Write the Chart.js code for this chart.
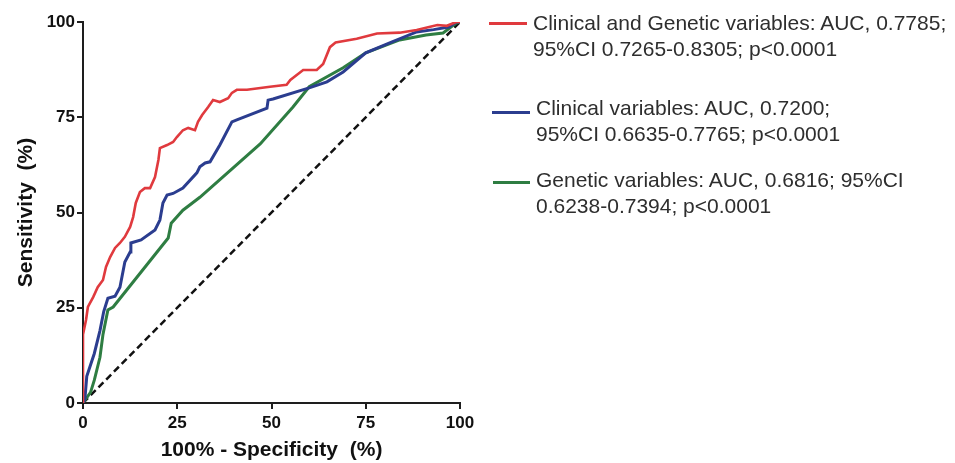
<!DOCTYPE html>
<html lang="en">

<head>
  <meta charset="UTF-8" />
  <title>ROC curves</title>
  <script src="https://cdn.jsdelivr.net/npm/chart.js"></script>
  <style>
    * {
      box-sizing: border-box;
    }

    body {
      margin: 0;
      background: #fff;
      font-family: 'Liberation Sans', Arial, sans-serif;
    }

    .wrap {
      position: relative;
      width: 955px;
      height: 463px;
    }

    .legend-item {
      position: absolute;
      font-size: 21px;
      line-height: 26px;
      color: #2e2e2e;
      white-space: nowrap;
    }

    .legend-line {
      position: absolute;
      height: 3px;
    }
  </style>
</head>

<body>
  <div class="wrap">
    <canvas id="roc" width="955" height="463"></canvas>

    <div class="legend-line" style="left:489px; top:22px; width:38px; background:#e03a3e;"></div>
    <div class="legend-item" style="left:533px; top:10px;">Clinical and Genetic variables: AUC, 0.7785;<br>95%CI 0.7265-0.8305; p&lt;0.0001</div>

    <div class="legend-line" style="left:492px; top:111px; width:38px; background:#2b3d8f;"></div>
    <div class="legend-item" style="left:536px; top:95px;">Clinical variables: AUC, 0.7200;<br>95%CI 0.6635-0.7765; p&lt;0.0001</div>

    <div class="legend-line" style="left:493px; top:181px; width:37px; background:#2e7d42;"></div>
    <div class="legend-item" style="left:536px; top:167px;">Genetic variables: AUC, 0.6816; 95%CI<br>0.6238-0.7394; p&lt;0.0001</div>
  </div>

  <script>
    // 100% - specificity (x) and sensitivity (y)
    const combinedFpr = [0, 0, 0.8, 1.3, 2.7, 3.9, 5.3, 6.1, 7.2, 8.5, 9.8, 11.1, 12.5, 13.3, 14, 15.1, 16.4, 17.8, 19.1, 20, 20.4, 22.3, 23.9, 24.9, 26.5, 27.9, 29.7, 30.5, 31.6, 33.2, 34.5, 36.3, 38.5, 39.5, 40.8, 43.5, 49.6, 54, 55, 58.4, 62, 63.7, 65.5, 67, 72.6, 78, 84, 88.5, 94, 96.5, 99, 100];
    const combinedTpr = [0, 18, 21.8, 25.2, 27.8, 30.4, 32.3, 35.7, 38.3, 40.7, 42, 43.6, 46.2, 48.8, 52.5, 55.4, 56.4, 56.4, 59.3, 63.8, 66.9, 67.7, 68.5, 69.8, 71.6, 72.2, 71.6, 73.8, 75.6, 77.7, 79.5, 79, 80, 81.4, 82.2, 82.2, 83, 83.5, 84.8, 87.4, 87.4, 89, 93.4, 94.6, 95.6, 97, 97.2, 97.9, 99.2, 99, 100, 100];

    const clinicalFpr = [0, 0.5, 1, 3, 4.5, 5.5, 6.6, 8.5, 9.8, 11.1, 12.5, 12.7, 15.4, 19.1, 20.4, 21.2, 22.3, 23.9, 26.5, 30.2, 31, 32.4, 33.7, 36.3, 39.5, 40.8, 48.8, 49.1, 50.4, 60, 64.7, 69, 75, 82, 88.5, 93, 97, 99, 100];
    const clinicalTpr = [0, 1, 7, 13, 19, 24, 27.5, 28, 30.4, 37, 39.6, 42, 42.8, 45.4, 48, 52.5, 54.6, 55, 56.4, 60.4, 62, 63, 63.3, 67.7, 73.8, 74.3, 77.4, 79.5, 79.8, 82.7, 84.3, 86.9, 91.9, 94.8, 97.4, 98, 98.7, 100, 100];

    const geneticFpr = [0, 2, 3, 4.5, 5.3, 6.6, 8, 22.6, 23.4, 26.5, 31, 47, 55.7, 60, 69, 75, 84, 91, 95.5, 99, 100];
    const geneticTpr = [0, 2.8, 6, 12, 18, 24.4, 25.2, 43.3, 47.2, 50.6, 54, 68, 77.7, 83, 88, 91.9, 95.3, 96.6, 97.1, 99.7, 100];

    const chanceLine = [0, 100];
    const axisTicks = [0, 25, 50, 75, 100];

    function toPoints(xs, ys) {
      return xs.map((x, i) => ({ x: x, y: ys[i] }));
    }

    const axisColor = '#1e1e1e';
    const tickFont = { family: "'Liberation Sans', Arial, sans-serif", size: 17, weight: 'bold' };
    const titleFont = { family: "'Liberation Sans', Arial, sans-serif", size: 21, weight: 'bold' };

    const ctx = document.getElementById('roc').getContext('2d');

    new Chart(ctx, {
      type: 'scatter',
      data: {
        datasets: [{
          label: 'Clinical and Genetic variables',
          data: toPoints(combinedFpr, combinedTpr),
          borderColor: '#e03a3e',
          borderWidth: 2.6
        }, {
          label: 'Clinical variables',
          data: toPoints(clinicalFpr, clinicalTpr),
          borderColor: '#2b3d8f',
          borderWidth: 3
        }, {
          label: 'Genetic variables',
          data: toPoints(geneticFpr, geneticTpr),
          borderColor: '#2e7d42',
          borderWidth: 3
        }, {
          label: 'Reference',
          data: toPoints(chanceLine, chanceLine),
          borderColor: '#111',
          borderWidth: 2.5,
          borderDash: [7, 4]
        }]
      },
      options: {
        responsive: false,
        animation: false,
        showLine: true,
        elements: {
          point: { radius: 0, hoverRadius: 0 },
          line: { tension: 0, fill: false }
        },
        layout: {
          padding: { left: 0, top: 22, right: 495, bottom: 0 }
        },
        plugins: {
          legend: { display: false },
          tooltip: { enabled: false }
        },
        scales: {
          x: {
            type: 'linear',
            min: 0,
            max: 100,
            afterFit: (scale) => { scale.height = 60; },
            afterBuildTicks: (scale) => { scale.ticks = axisTicks.map(v => ({ value: v })); },
            border: { display: true, color: axisColor, width: 2 },
            grid: { display: true, drawOnChartArea: false, drawTicks: true, tickLength: 6, color: axisColor, lineWidth: 2 },
            ticks: { color: '#111', font: tickFont, padding: 4, maxRotation: 0 },
            title: { display: true, text: '100% - Specificity  (%)', color: '#111', font: titleFont, padding: { top: 0, bottom: 0 } }
          },
          y: {
            type: 'linear',
            min: 0,
            max: 100,
            afterFit: (scale) => { scale.width = 83; },
            afterBuildTicks: (scale) => { scale.ticks = axisTicks.map(v => ({ value: v })); },
            border: { display: true, color: axisColor, width: 2 },
            grid: { display: true, drawOnChartArea: false, drawTicks: true, tickLength: 6, color: axisColor, lineWidth: 2 },
            ticks: { color: '#111', font: tickFont, padding: 2 },
            title: { display: true, text: 'Sensitivity  (%)', color: '#111', font: titleFont, padding: { top: 14, bottom: 0 } }
          }
        }
      }
    });
  </script>

</body>

</html>
